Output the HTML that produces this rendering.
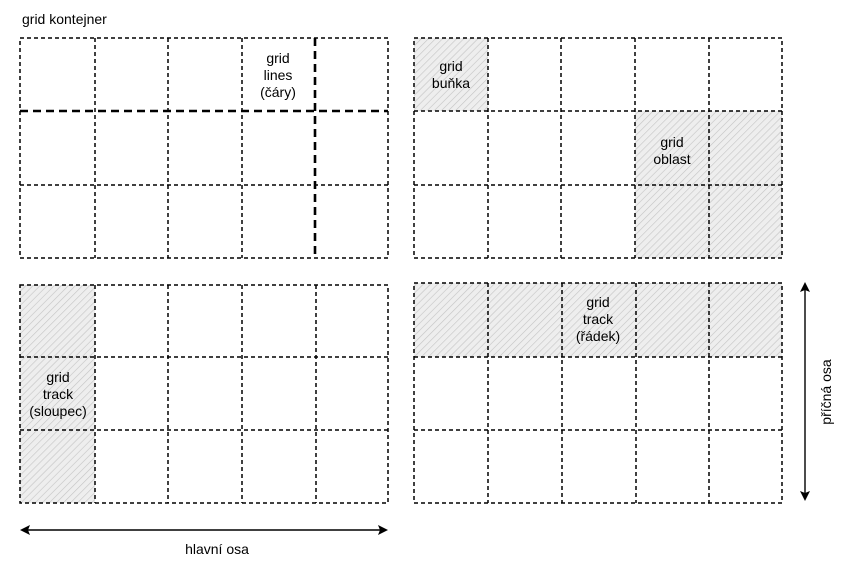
<!DOCTYPE html>
<html><head><meta charset="utf-8"><style>
html,body{margin:0;padding:0;background:#fff;}
svg{display:block;font-family:"Liberation Sans",Arial,sans-serif;}
</style></head><body>
<svg width="847" height="565" viewBox="0 0 847 565" xmlns="http://www.w3.org/2000/svg">
<defs>
<pattern id="h" patternUnits="userSpaceOnUse" width="5" height="5" patternTransform="rotate(45)">
<rect width="5" height="5" fill="#eeeeee"/>
<line x1="0" y1="0" x2="0" y2="5" stroke="#c4c4c4" stroke-width="1.2"/>
</pattern>
</defs>
<rect x="414" y="38" width="74" height="73" fill="url(#h)"/>
<rect x="635" y="111" width="147" height="147" fill="url(#h)"/>
<rect x="20" y="285" width="75" height="218" fill="url(#h)"/>
<rect x="414" y="283" width="368" height="74" fill="url(#h)"/>

<g fill="none" stroke="#000" stroke-width="1.5" stroke-dasharray="4 3">
<rect x="20" y="38" width="368" height="220"/>
<path d="M95 38V258M168 38V258M242 38V258M20 185H388"/>
<rect x="414" y="38" width="368" height="220"/>
<path d="M488 38V258M561 38V258M635 38V258M709 38V258M414 111H782M414 185H782"/>
<rect x="20" y="285" width="368" height="218"/>
<path d="M95 285V503M168 285V503M242 285V503M316 285V503M20 357H388M20 430H388"/>
<rect x="414" y="283" width="368" height="220"/>
<path d="M488 283V503M562 283V503M636 283V503M709 283V503M414 357H782M414 430H782"/>
</g>
<g fill="none" stroke="#000" stroke-width="2.6" stroke-dasharray="8 5">
<path d="M20 111H388M315 38V258"/>
</g>

<g stroke="#000" stroke-width="1.4">
<line x1="28" y1="530" x2="380" y2="530"/>
<line x1="805" y1="290" x2="805" y2="493"/>
</g>
<path d="M20 530l10-5-2 5 2 5z M388 530l-10-5 2 5-2 5z" fill="#000"/>
<path d="M805 282l-5 10 5-2 5 2z M805 501l-5-10 5 2 5-2z" fill="#000"/>

<g font-size="14" fill="#000" text-anchor="middle">
<text x="22" y="24" text-anchor="start">grid kontejner</text>
<text x="278" y="63">grid</text><text x="278" y="80">lines</text><text x="278" y="97">(čáry)</text>
<text x="451" y="71">grid</text><text x="451" y="88">buňka</text>
<text x="672" y="147">grid</text><text x="672" y="164">oblast</text>
<text x="58" y="382">grid</text><text x="58" y="399">track</text><text x="58" y="416">(sloupec)</text>
<text x="598" y="307">grid</text><text x="598" y="324">track</text><text x="598" y="341">(řádek)</text>
<text x="217" y="554">hlavní osa</text>
<text x="0" y="0" transform="translate(831 392) rotate(-90)">příčná osa</text>
</g>
</svg>
</body></html>
